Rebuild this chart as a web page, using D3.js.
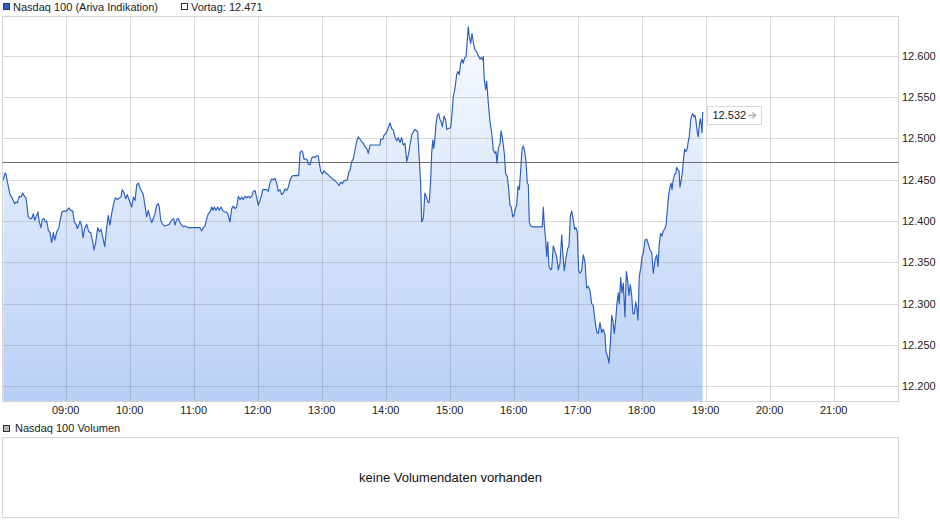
<!DOCTYPE html>
<html><head><meta charset="utf-8">
<script src="https://cdn.jsdelivr.net/npm/d3@7"></script>
<style>
body{margin:0;background:#fff}
svg{display:block;font-family:Arial,"Liberation Sans",sans-serif}
</style>
</head><body>
<svg id="c" width="940" height="526"></svg>
<script>
const seriesName = "Nasdaq 100 (Ariva Indikation)";
const prevCloseLabel = "Vortag";
const prevClose = 12471;
const volumeName = "Nasdaq 100 Volumen";
const noVolumeText = "keine Volumendaten vorhanden";
const sessionStart = "08:00";
const sessionEnd = "22:00";
const hourTicks = ["09:00","10:00","11:00","12:00","13:00","14:00","15:00","16:00","17:00","18:00","19:00","20:00","21:00"];
const valueTicks = [12200,12250,12300,12350,12400,12450,12500,12550,12600];

// minutes after 08:00
const minutesAfterStart = [
1.5,3.1,4.0,5.25,7.8,9.4,10.9,12.2,13.4,14.6,16.5,18.1,19.7,21.2,22.8,24.9,26.5,28.1,29.6,30.9,
32.2,34.0,35.25,36.8,38.1,39.7,40.9,42.2,43.7,45.3,46.9,48.4,49.7,51.6,53.4,54.9,56.5,58.4,60.9,62.8,
64.7,66.6,68.1,69.7,70.9,72.2,73.4,75.0,76.2,77.8,79.7,81.6,83.4,85.3,86.5,88.1,90.0,91.5,93.1,94.7,
96.6,98.1,99.9,101.5,103.1,104.6,106.5,108.4,110.25,111.8,113.1,114.7,116.25,117.75,119.3,121.9,123.4,125.0,126.6,128.1,
129.7,131.25,132.75,134.3,135.9,137.4,139.0,140.6,142.1,143.7,145.3,146.8,147.75,149.1,150.6,152.4,154.7,156.8,159.4,161.25,
162.5,164.1,165.6,167.2,168.75,170.25,171.8,174.9,178.1,182.8,185.9,187.5,189.0,190.6,192.2,193.7,195.3,196.9,198.1,199.3,
200.9,202.5,204.0,205.6,207.2,208.7,210.3,211.9,214.0,215.6,217.1,218.7,220.3,221.8,223.4,225.0,226.5,228.1,229.7,231.2,
232.8,234.4,235.9,237.5,239.1,240.6,242.2,243.75,244.7,246.8,248.4,249.9,251.5,253.1,254.6,256.2,257.8,259.3,260.9,262.5,
264.0,265.6,267.2,268.7,270.3,271.9,273.4,276.6,278.4,279.7,281.25,282.2,283.4,285.0,286.5,287.4,289.0,290.6,292.1,293.7,
295.3,296.8,297.75,299.1,300.6,302.2,303.75,305.25,306.8,308.4,309.9,311.5,313.1,314.6,316.2,317.8,319.3,320.9,322.5,324.0,
325.6,326.5,328.1,329.6,331.2,332.8,334.3,335.9,337.5,339.0,340.6,342.2,343.7,345.3,348.4,351.6,354.7,355.3,357.2,358.4,
360.3,361.9,364.0,365.6,367.1,368.7,370.3,371.8,373.4,375.0,376.5,378.1,379.7,381.2,382.8,384.4,385.9,387.5,389.1,390.0,
391.2,392.8,393.75,395.25,396.8,398.4,399.9,400.9,402.2,403.1,404.1,405.0,406.2,407.2,408.4,409.7,410.9,411.8,413.1,414.7,
416.25,417.2,418.7,420.9,422.2,423.4,425.0,426.6,427.8,429.0,430.3,431.5,432.75,434.1,435.3,436.5,437.4,438.4,439.7,440.9,
442.1,443.4,444.7,445.9,447.2,448.4,449.6,450.9,451.5,452.4,453.75,454.7,456.2,457.8,459.4,460.9,462.5,463.4,464.3,465.6,
467.2,468.1,469.0,470.0,471.2,472.5,474.0,475.3,476.5,477.75,479.1,480.3,481.5,482.8,484.0,485.25,486.6,487.8,489.0,490.3,
491.5,492.75,493.7,494.6,495.9,498.4,503.1,506.8,507.75,508.7,510.0,510.9,511.9,513.1,514.7,515.6,517.1,518.7,520.3,521.8,
523.4,525.0,526.2,527.4,529.0,530.6,531.8,533.1,534.4,535.9,537.2,538.4,539.6,540.9,542.4,543.75,545.25,546.8,548.4,549.9,
551.5,553.1,554.6,556.2,557.8,559.3,560.9,562.5,564.0,565.6,566.5,568.1,569.3,570.6,571.9,573.1,574.3,575.6,576.8,578.1,
579.0,580.3,581.5,582.75,584.3,585.6,586.9,588.1,589.3,590.6,591.8,593.1,594.4,595.6,596.5,597.75,599.1,600.3,601.5,603.1,
604.7,606.2,607.8,609.4,610.9,612.5,614.1,615.3,616.5,617.8,619.0,620.25,621.8,622.8,624.0,625.3,626.5,627.5,628.4,629.6,
630.9,631.9,632.8,634.0,635.0,635.9,637.1,638.4,639.4,640.3,641.5,642.75,643.7,644.6,645.9,646.9,647.8,649.0,650.0,650.9,
652.1,653.1,654.0,655.0,655.9,656.5,657.2
];
const values = [
12450,12458,12457,12448,12432,12429,12425,12421,12423,12422,12430,12429,12434,12430,12428,12405,12403,12403,12409,12401,
12405,12411,12399,12392,12402,12403,12399,12400,12389,12386,12374,12386,12377,12387,12391,12401,12411,12412,12412,12416,
12413,12412,12399,12396,12391,12395,12400,12394,12380,12391,12396,12387,12386,12375,12365,12374,12392,12387,12390,12381,
12369,12389,12407,12395,12409,12419,12428,12426,12428,12429,12438,12434,12427,12432,12426,12417,12429,12425,12444,12446,
12440,12436,12432,12419,12405,12413,12405,12398,12403,12409,12419,12421,12417,12401,12397,12394,12395,12396,12401,12403,
12395,12402,12403,12398,12395,12393,12394,12392,12392,12392,12392,12388,12392,12394,12403,12409,12411,12417,12413,12417,
12413,12417,12413,12417,12413,12411,12411,12409,12399,12415,12418,12415,12417,12430,12426,12429,12426,12430,12428,12430,
12428,12430,12436,12437,12428,12419,12425,12432,12438,12438,12438,12436,12446,12451,12450,12452,12446,12436,12438,12432,
12434,12439,12437,12441,12449,12454,12455,12455,12455,12483,12485,12483,12475,12475,12474,12469,12468,12476,12478,12477,
12479,12479,12470,12460,12457,12461,12458,12457,12455,12453,12451,12450,12448,12446,12443,12447,12445,12449,12449,12450,
12460,12461,12472,12475,12486,12496,12502,12499,12496,12494,12490,12488,12482,12492,12492,12492,12492,12499,12499,12504,
12506,12511,12519,12512,12510,12502,12497,12501,12495,12501,12492,12494,12472,12480,12492,12504,12508,12511,12509,12508,
12482,12444,12399,12403,12434,12428,12422,12423,12450,12482,12498,12488,12500,12518,12528,12530,12523,12521,12514,12527,
12522,12511,12512,12513,12530,12551,12561,12578,12581,12577,12591,12596,12591,12598,12599,12619,12635,12623,12615,12627,
12617,12608,12606,12603,12599,12596,12598,12595,12599,12571,12559,12569,12543,12520,12506,12486,12482,12484,12470,12488,
12494,12509,12504,12494,12482,12457,12454,12438,12419,12417,12405,12407,12415,12419,12442,12438,12462,12487,12491,12484,
12472,12446,12444,12399,12394,12393,12393,12393,12417,12395,12377,12357,12375,12345,12341,12342,12370,12363,12357,12341,
12349,12383,12359,12340,12355,12367,12369,12406,12412,12401,12390,12392,12387,12339,12337,12341,12359,12351,12319,12321,
12316,12300,12298,12280,12266,12264,12277,12265,12269,12262,12242,12236,12228,12252,12286,12278,12264,12280,12300,12313,
12300,12332,12313,12325,12284,12339,12327,12310,12323,12310,12288,12288,12302,12294,12280,12333,12343,12357,12361,12377,
12378,12372,12365,12362,12337,12353,12359,12345,12373,12385,12382,12388,12391,12395,12413,12432,12441,12446,12438,12450,
12457,12457,12465,12462,12461,12441,12450,12462,12478,12487,12484,12488,12497,12502,12522,12528,12530,12526,12528,12521,
12508,12502,12516,12524,12516,12507,12532
];

const deLocale = d3.formatLocale({decimal:",", thousands:".", grouping:[3], currency:["","\u00a0€"]});
const fmt = deLocale.format(",d");
const parseHM = d3.timeParse("%H:%M");
const t0 = parseHM(sessionStart);
const data = minutesAfterStart.map((m,i)=>({t:new Date(+t0 + m*60000), v:values[i]}));

const svg = d3.select("#c");
const W = 940;
const plot = {left:2.5, right:898.5, top:16.5, bottom:401.5};

const x = d3.scaleTime().domain([t0, parseHM(sessionEnd)]).range([1.7, 897.7]);
const y = d3.scaleLinear().domain([12200, 12600]).range([386.3, 55.8]);

// gradient
const defs = svg.append("defs");
const grad = defs.append("linearGradient").attr("id","fillGrad")
  .attr("gradientUnits","userSpaceOnUse").attr("x1",0).attr("x2",0)
  .attr("y1",plot.top).attr("y2",plot.bottom);
grad.append("stop").attr("offset","0%").attr("stop-color","#fbfdff");
grad.append("stop").attr("offset","100%").attr("stop-color","#b8cff6");

// legend top
const lg = svg.append("g").attr("font-size",11).attr("fill","#222");
lg.append("rect").attr("x",3.5).attr("y",3.5).attr("width",6).attr("height",6)
  .attr("fill","#2b5cbf").attr("stroke","#1d3a7a");
lg.append("text").attr("x",13).attr("y",10.5).text(seriesName);
lg.append("rect").attr("x",181.5).attr("y",3.5).attr("width",6).attr("height",6)
  .attr("fill","#fff").attr("stroke","#333");
lg.append("text").attr("x",191).attr("y",10.5).text(prevCloseLabel + ": " + fmt(prevClose));

// area fill
const area = d3.area().x(d=>x(d.t)).y0(plot.bottom).y1(d=>y(d.v));
svg.append("path").datum(data).attr("d",area).attr("fill","url(#fillGrad)");

// grid
const grid = svg.append("g").attr("stroke","rgba(110,110,110,0.24)").attr("stroke-width",1);
grid.selectAll("line.h").data(valueTicks).join("line").attr("class","h")
  .attr("x1",plot.left).attr("x2",plot.right)
  .attr("y1",d=>Math.round(y(d))+0.5).attr("y2",d=>Math.round(y(d))+0.5);
grid.selectAll("line.v").data(hourTicks).join("line").attr("class","v")
  .attr("y1",plot.top).attr("y2",plot.bottom)
  .attr("x1",d=>Math.round(x(parseHM(d)))+0.5).attr("x2",d=>Math.round(x(parseHM(d)))+0.5);

// frame
svg.append("rect").attr("x",plot.left).attr("y",plot.top)
  .attr("width",plot.right-plot.left).attr("height",plot.bottom-plot.top)
  .attr("fill","none").attr("stroke","#d6d6d6");

// previous close line
svg.append("line").attr("x1",plot.left).attr("x2",plot.right)
  .attr("y1",Math.round(y(prevClose))+0.5).attr("y2",Math.round(y(prevClose))+0.5)
  .attr("stroke","#6e6e6e").attr("stroke-width",1);

// price line
const line = d3.line().x(d=>x(d.t)).y(d=>y(d.v));
svg.append("path").datum(data).attr("d",line).attr("fill","none")
  .attr("stroke","#2a5dc0").attr("stroke-width",1.15).attr("stroke-linejoin","round");

// y-axis labels
svg.append("g").attr("font-size",11).attr("fill","#222")
  .selectAll("text").data(valueTicks.filter(v=>v>=12200)).join("text")
  .attr("x",plot.right+3.5).attr("y",d=>y(d)+4).text(d=>fmt(d));

// x-axis labels
svg.append("g").attr("font-size",11).attr("fill","#222").attr("text-anchor","middle")
  .selectAll("text").data(hourTicks).join("text")
  .attr("x",d=>x(parseHM(d))).attr("y",413.5).text(d=>d);

// last price label
const last = data[data.length-1];
const lx = Math.round(x(last.t))+4.5;
const cy = y(last.v)+3.5;
const lab = svg.append("g");
lab.append("rect").attr("x",lx).attr("y",Math.round(cy-9)+0.5).attr("width",54).attr("height",18)
  .attr("fill","#fff").attr("stroke","#d8d8d8");
lab.append("text").attr("x",lx+5).attr("y",cy+4).attr("font-size",11).attr("fill","#222").text(fmt(last.v));
lab.append("path")
  .attr("d",`M${lx+41},${cy} H${lx+48} M${lx+45},${cy-3} L${lx+48},${cy} L${lx+45},${cy+3}`)
  .attr("fill","none").attr("stroke","#b0b0b0").attr("stroke-width",1.4);

// volume panel
const vg = svg.append("g").attr("font-size",11).attr("fill","#222");
vg.append("rect").attr("x",3.5).attr("y",425.5).attr("width",6).attr("height",6)
  .attr("fill","#b4b4b4").attr("stroke","#333");
vg.append("text").attr("x",15).attr("y",432).text(volumeName);
svg.append("rect").attr("x",plot.left).attr("y",437.5).attr("width",plot.right-plot.left).attr("height",80)
  .attr("fill","#fff").attr("stroke","#d6d6d6");
svg.append("text").attr("x",(plot.left+plot.right)/2).attr("y",482).attr("text-anchor","middle")
  .attr("font-size",13).attr("fill","#111").text(noVolumeText);
</script>
</body></html>
